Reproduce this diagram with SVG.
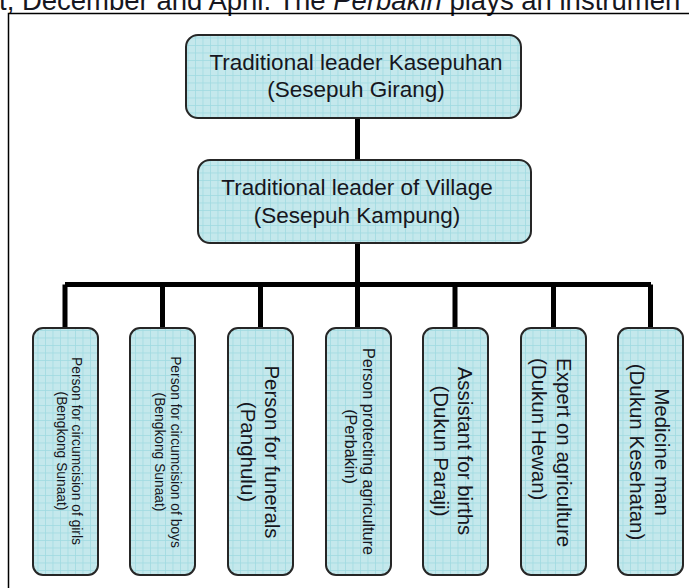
<svg xmlns="http://www.w3.org/2000/svg" width="689" height="588" viewBox="0 0 689 588">
<style>
.box{fill:url(#grid);stroke:#262626;stroke-width:2}
.t{font-family:"Liberation Sans",Arial,sans-serif;fill:#161620}
.c{text-anchor:middle}
.conn{stroke:#000;stroke-width:5;fill:none}
</style>
<defs>
<pattern id="grid" patternUnits="userSpaceOnUse" width="7.5" height="7.5">
<rect width="7.5" height="7.5" fill="#c4e8ec"/>
<path d="M0 0.5H7.5M0.5 0V7.5" stroke="#9fdbe0" stroke-width="0.8"/>
</pattern>
</defs>
<rect width="689" height="588" fill="#fff"/>
<text class="t" x="-1" y="10" font-size="27.5">t, December and April. The <tspan font-style="italic">Perbakin</tspan> plays an instrumen</text>
<path d="M8.5 588V13.5H689" fill="none" stroke="#000" stroke-width="1.5"/>
<g id="connectors">
<path class="conn" d="M357.5 118V160M357.5 243V284.5M65 284.5H651M65 284.5V328M162.5 284.5V328M260.5 284.5V328M357.5 284.5V328M455 284.5V328M553.5 284.5V328M650.5 284.5V328"/>
</g>
<g id="n_kasepuhan">
<rect class="box" x="186" y="35" width="335" height="83" rx="12"/>
<text class="t c" x="356" y="70" font-size="22.5">Traditional leader Kasepuhan</text>
<text class="t c" x="356" y="97" font-size="22.5">(Sesepuh Girang)</text>
</g>
<g id="n_village">
<rect class="box" x="198" y="160" width="333" height="83" rx="12"/>
<text class="t c" x="357" y="195" font-size="22.5">Traditional leader of Village</text>
<text class="t c" x="357" y="223" font-size="22.5">(Sesepuh Kampung)</text>
</g>
<g id="n_girls">
<rect class="box" x="33" y="328" width="65" height="247" rx="10"/>
<g transform="translate(65.5 451) rotate(90)">
<text class="t c" x="0" y="-6" font-size="13.8">Person for circumcision of girls</text>
<text class="t c" x="0" y="8.5" font-size="13.8">(Bengkong Sunaat)</text>
</g>
</g>
<g id="n_boys">
<rect class="box" x="130" y="328" width="65" height="247" rx="10"/>
<g transform="translate(162.5 452) rotate(90)">
<text class="t c" x="0" y="-8.5" font-size="13.8">Person for circumcision of boys</text>
<text class="t c" x="0" y="7.5" font-size="13.8">(Bengkong Sunaat)</text>
</g>
</g>
<g id="n_funerals">
<rect class="box" x="228" y="328" width="65" height="247" rx="10"/>
<g transform="translate(260.5 452) rotate(90)">
<text class="t c" x="0" y="-4.5" font-size="20.5">Person for funerals</text>
<text class="t c" x="0" y="19.5" font-size="20.5">(Panghulu)</text>
</g>
</g>
<g id="n_perbakin">
<rect class="box" x="326" y="328" width="65" height="247" rx="10"/>
<g transform="translate(358 451.5) rotate(90)">
<text class="t c" x="0" y="-5" font-size="16.2">Person protecting agriculture</text>
<text class="t c" x="-5" y="13" font-size="16.2">(Perbakin)</text>
</g>
</g>
<g id="n_births">
<rect class="box" x="423" y="328" width="65" height="247" rx="10"/>
<g transform="translate(455 451) rotate(90)">
<text class="t c" x="0" y="-3" font-size="20.5">Assistant for births</text>
<text class="t c" x="0" y="21" font-size="20.5">(Dukun Paraji)</text>
</g>
</g>
<g id="n_agri">
<rect class="box" x="521" y="328" width="65" height="247" rx="10"/>
<g transform="translate(553.5 358) rotate(90)">
<text class="t" x="0" y="-3" font-size="20.5">Expert on agriculture</text>
<text class="t" x="0" y="21.5" font-size="20.5">(Dukun Hewan)</text>
</g>
</g>
<g id="n_medicine">
<rect class="box" x="618" y="328" width="65" height="247" rx="10"/>
<g transform="translate(650.5 452) rotate(90)">
<text class="t c" x="0" y="-4.5" font-size="20.5">Medicine man</text>
<text class="t c" x="0" y="20.5" font-size="20.5">(Dukun Kesehatan)</text>
</g>
</g>
</svg>
